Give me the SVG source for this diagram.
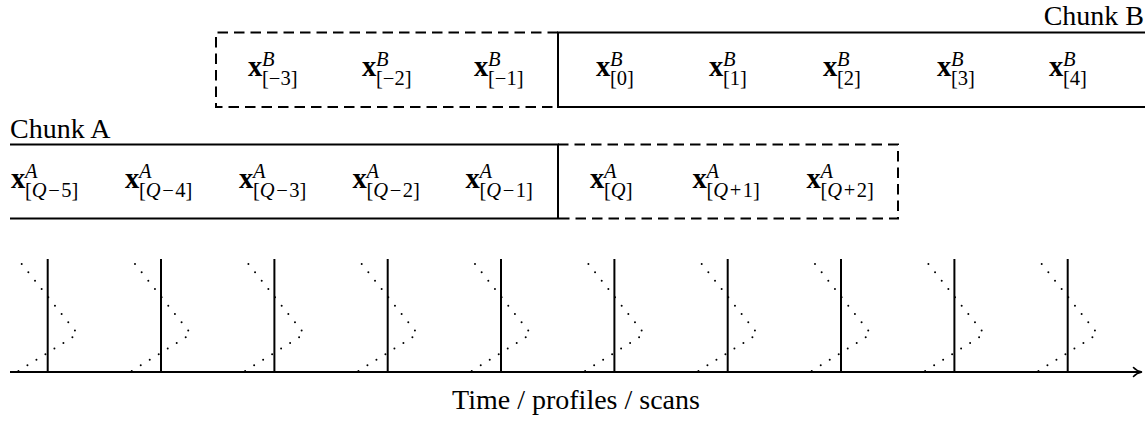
<svg xmlns="http://www.w3.org/2000/svg" width="1145" height="421" viewBox="0 0 1145 421">
<style>
.solid{fill:none;stroke:#000;stroke-width:2}
.dash{fill:none;stroke:#000;stroke-width:2;stroke-dasharray:10.5 6}
.t{font-family:"Liberation Serif","Times New Roman",serif;font-size:28px;fill:#000}
.m{font-family:"Liberation Serif","Times New Roman",serif;font-size:28.5px;font-weight:bold;fill:#000}
.sup{font-size:20.5px;font-weight:normal;font-style:italic}
.sub{font-size:20.5px;font-weight:normal;font-style:normal}
.it{font-style:italic}
.vl{stroke:#000;stroke-width:2}
.dot{fill:none;stroke:#000;stroke-width:2;stroke-linecap:round;stroke-dasharray:0 10.66}
</style>
<defs>
<g id="profile">
<line class="vl" x1="0" y1="259" x2="0" y2="372"/>
<path class="dot" d="M-26,264 L27.3,330.7"/>
<path class="dot" d="M24.7,337.3 L-29.3,371" style="stroke-dasharray:0 10.6"/>
</g>
</defs>

<g id="chunkB">
<text class="t" x="1144" y="25" text-anchor="end">Chunk B</text>
<path class="solid" d="M1145,32.5 H558 V107 H1145"/>
<path class="dash" d="M558,32.5 H216 V107 H558"/>
<text class="m" x="248" y="76">x<tspan class="sup" x="262" y="65.5">B</tspan><tspan class="sub" x="262" y="85">[−3]</tspan></text>
<text class="m" x="362" y="76">x<tspan class="sup" x="376" y="65.5">B</tspan><tspan class="sub" x="376" y="85">[−2]</tspan></text>
<text class="m" x="474" y="76">x<tspan class="sup" x="488" y="65.5">B</tspan><tspan class="sub" x="488" y="85">[−1]</tspan></text>
<text class="m" x="596" y="76">x<tspan class="sup" x="610" y="65.5">B</tspan><tspan class="sub" x="610" y="85">[0]</tspan></text>
<text class="m" x="709" y="76">x<tspan class="sup" x="723" y="65.5">B</tspan><tspan class="sub" x="723" y="85">[1]</tspan></text>
<text class="m" x="823" y="76">x<tspan class="sup" x="837" y="65.5">B</tspan><tspan class="sub" x="837" y="85">[2]</tspan></text>
<text class="m" x="937" y="76">x<tspan class="sup" x="951" y="65.5">B</tspan><tspan class="sub" x="951" y="85">[3]</tspan></text>
<text class="m" x="1049" y="76">x<tspan class="sup" x="1063" y="65.5">B</tspan><tspan class="sub" x="1063" y="85">[4]</tspan></text>
</g>

<g id="chunkA">
<text class="t" x="10" y="137.5">Chunk A</text>
<path class="solid" d="M10,144.5 H558 V218.5 H10"/>
<path class="dash" d="M558,144.5 H898 V218.5 H558"/>
<text class="m" x="11" y="188">x<tspan class="sup" x="25" y="178">A</tspan><tspan class="sub" x="25" y="197">[<tspan class="it">Q</tspan><tspan dx="1.5">−</tspan><tspan dx="1.5">5]</tspan></tspan></text>
<text class="m" x="125" y="188">x<tspan class="sup" x="139" y="178">A</tspan><tspan class="sub" x="139" y="197">[<tspan class="it">Q</tspan><tspan dx="1.5">−</tspan><tspan dx="1.5">4]</tspan></tspan></text>
<text class="m" x="239" y="188">x<tspan class="sup" x="253" y="178">A</tspan><tspan class="sub" x="253" y="197">[<tspan class="it">Q</tspan><tspan dx="1.5">−</tspan><tspan dx="1.5">3]</tspan></tspan></text>
<text class="m" x="352.5" y="188">x<tspan class="sup" x="366.5" y="178">A</tspan><tspan class="sub" x="366.5" y="197">[<tspan class="it">Q</tspan><tspan dx="1.5">−</tspan><tspan dx="1.5">2]</tspan></tspan></text>
<text class="m" x="465.5" y="188">x<tspan class="sup" x="479.5" y="178">A</tspan><tspan class="sub" x="479.5" y="197">[<tspan class="it">Q</tspan><tspan dx="1.5">−</tspan><tspan dx="1.5">1]</tspan></tspan></text>
<text class="m" x="590" y="188">x<tspan class="sup" x="604" y="178">A</tspan><tspan class="sub" x="604" y="197">[<tspan class="it">Q</tspan>]</tspan></text>
<text class="m" x="692.5" y="188">x<tspan class="sup" x="706.5" y="178">A</tspan><tspan class="sub" x="706.5" y="197">[<tspan class="it">Q</tspan><tspan dx="1.5">+</tspan><tspan dx="1.5">1]</tspan></tspan></text>
<text class="m" x="806.5" y="188">x<tspan class="sup" x="820.5" y="178">A</tspan><tspan class="sub" x="820.5" y="197">[<tspan class="it">Q</tspan><tspan dx="1.5">+</tspan><tspan dx="1.5">2]</tspan></tspan></text>
</g>

<g id="profiles">
<use href="#profile" x="47.7"/>
<use href="#profile" x="161"/>
<use href="#profile" x="274.4"/>
<use href="#profile" x="387.7"/>
<use href="#profile" x="501"/>
<use href="#profile" x="614.4"/>
<use href="#profile" x="727.7"/>
<use href="#profile" x="841"/>
<use href="#profile" x="954.4"/>
<use href="#profile" x="1067.7"/>
</g>

<g id="connectors">
<line class="vl" x1="10" y1="372" x2="1141" y2="372"/>
<path d="M1133.5,367.5 C1135.5,369.8 1138.5,371.4 1142,372 C1138.5,372.6 1135.5,374.2 1133.5,376.5" fill="none" stroke="#000" stroke-width="1.6" stroke-linecap="round"/>
</g>

<g id="axis-label">
<text class="t" x="576" y="409" text-anchor="middle">Time / profiles / scans</text>
</g>
</svg>
